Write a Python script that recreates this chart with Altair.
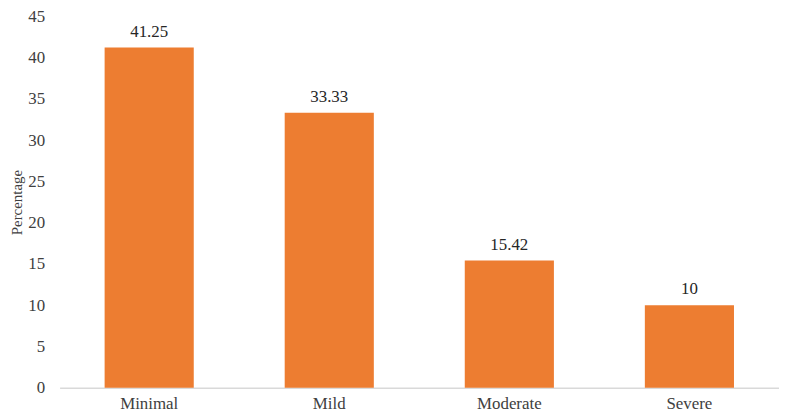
import altair as alt
import pandas as pd

categories = ["Minimal", "Mild", "Moderate", "Severe"]
values = [41.25, 33.33, 15.42, 10]
labels = ["41.25", "33.33", "15.42", "10"]

df = pd.DataFrame({"cat": categories, "val": values, "lab": labels})

FONT = "Liberation Serif"

x = alt.X("cat:N", sort=categories, title=None,
          scale=alt.Scale(paddingInner=0.505, paddingOuter=0.25),
          axis=alt.Axis(labelAngle=0, ticks=False, domainColor="#D9D9D9", domainWidth=1.5,
                        labelFont=FONT, labelFontSize=17, labelColor="#404040", labelPadding=8))
y = alt.Y("val:Q", title="Percentage",
          scale=alt.Scale(domain=[0, 45]),
          axis=alt.Axis(values=list(range(0, 50, 5)), grid=False, domain=False, ticks=False,
                        labelFont=FONT, labelFontSize=17, labelColor="#404040", labelPadding=15,
                        titleFont=FONT, titleFontSize=15, titleFontWeight="normal",
                        titleColor="#404040", titlePadding=3))

bars = alt.Chart(df).mark_bar(color="#ED7D31").encode(x=x, y=y)
text = alt.Chart(df).mark_text(baseline="bottom", dy=-7, font=FONT, fontSize=17, color="#262626").encode(
    x=alt.X("cat:N", sort=categories), y="val:Q", text="lab:N")

chart = (bars + text).properties(
    width=725, height=374,
    padding={"left": 52, "top": 7, "right": 0, "bottom": 30},
    autosize=alt.AutoSizeParams(type="none"),
).configure_view(stroke=None)

chart.save("out.html", embed_options={"renderer": "svg", "actions": False})
